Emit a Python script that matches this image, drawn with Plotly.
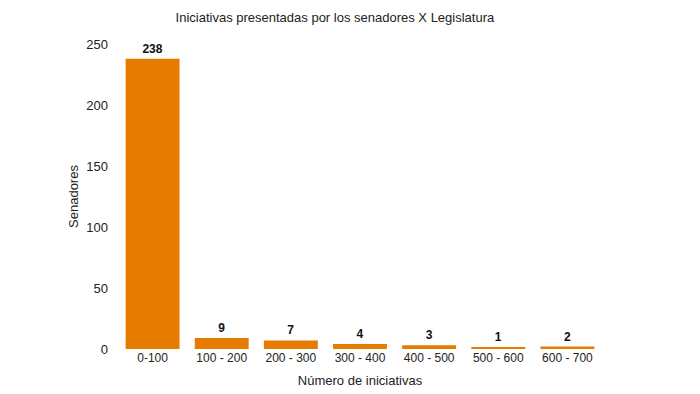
import plotly.graph_objects as go

categories = ["0-100", "100 - 200", "200 - 300", "300 - 400", "400 - 500", "500 - 600", "600 - 700"]
senadores = [238, 9, 7, 4, 3, 1, 2]

fig = go.Figure(go.Bar(
    x=categories, y=senadores,
    marker=dict(color="#e57c00", line=dict(width=0)),
    text=[f"<b>{v}</b>" for v in senadores],
    textposition="outside",
    textfont=dict(family="Liberation Sans, Arial", size=12, color="#111111"),
    cliponaxis=False,
))

fig.update_layout(
    width=700, height=394,
    margin=dict(l=110, r=106, t=36, b=53),
    paper_bgcolor="white", plot_bgcolor="white",
    font=dict(family="Liberation Sans, Arial", color="#222222"),
    title=dict(text="Iniciativas presentadas por los senadores X Legislatura",
               xref="container", x=0.467, xanchor="center", y=0.977, yanchor="middle",
               font=dict(size=13, color="#222222")),
    bargap=0.22,
    showlegend=False,
    xaxis=dict(showgrid=False, showline=False, zeroline=False, ticks="",
               tickfont=dict(size=12),
               title=dict(text="Número de iniciativas", font=dict(size=13), standoff=11)),
    yaxis=dict(range=[0, 250], showgrid=False, showline=False, zeroline=False, ticks="",
               tickvals=[0, 50, 100, 150, 200, 250],
               tickfont=dict(size=13), ticklabelstandoff=9,
               title=dict(text="Senadores", font=dict(size=13), standoff=4)),
)

fig.write_html("out.html")
